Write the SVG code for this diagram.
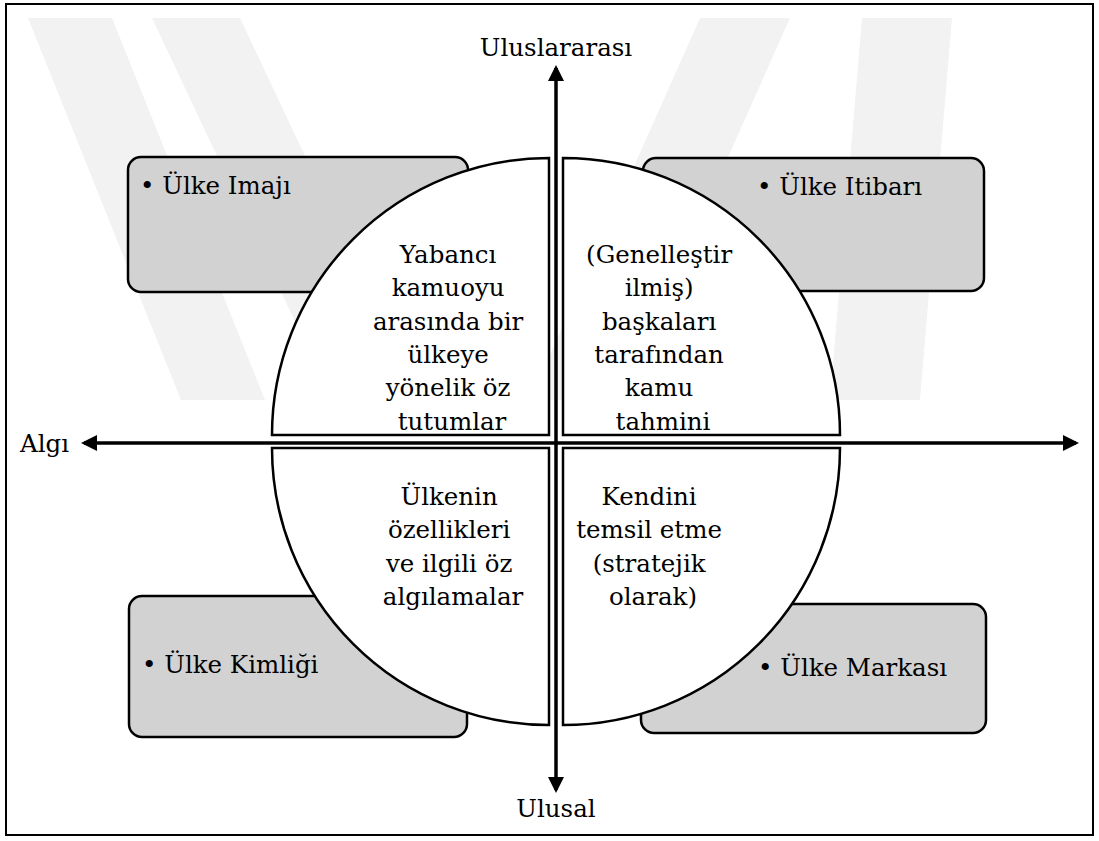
<svg xmlns="http://www.w3.org/2000/svg" width="1099" height="841" viewBox="0 0 1099 841">
  <defs>
    <style>
      .frame { fill: #ffffff; stroke: #000000; stroke-width: 2; }
      .box { fill: #d2d2d2; stroke: #000000; stroke-width: 2.5; }
      .quad { fill: #ffffff; stroke: #000000; stroke-width: 2.5; }
      .axis { fill: none; stroke: #000000; stroke-width: 3.5; }
      .mid { text-anchor: middle; }
      .mark { fill: #f2f2f2; }
    </style>
    <marker id="arrow" viewBox="0 0 16 16" markerUnits="userSpaceOnUse" markerWidth="16" markerHeight="16" refX="13" refY="8" orient="auto-start-reverse">
      <path d="M0,0 L16,8 L0,16 Z" fill="#000000"/>
    </marker>
  </defs>

  <rect class="frame" x="6" y="4" width="1087" height="831"/>

  <!-- faint background mark -->
  <g id="mark">
    <polygon class="mark" points="28,18 112,18 265,400 181,400"/>
    <polygon class="mark" points="152,18 240,18 420,400 332,400"/>
    <polygon class="mark" points="700,18 790,18 620,400 530,400"/>
    <polygon class="mark" points="862,18 952,18 920,400 830,400"/>
  </g>

  <g font-family="DejaVu Serif" font-size="24.5" fill="#000000">
  <!-- grey label boxes sit behind the quarter circles -->
  <g id="box-imaj">
    <rect class="box" x="128" y="157" width="340" height="135" rx="13"/>
    <text x="140" y="194">• Ülke Imajı</text>
  </g>
  <g id="box-itibar">
    <rect class="box" x="643" y="158" width="341" height="133" rx="13"/>
    <text x="757" y="195">• Ülke Itibarı</text>
  </g>
  <g id="box-kimlik">
    <rect class="box" x="129" y="596" width="338" height="141" rx="13"/>
    <text x="142" y="673">• Ülke Kimliği</text>
  </g>
  <g id="box-marka">
    <rect class="box" x="641" y="604" width="345" height="129" rx="13"/>
    <text x="758" y="676">• Ülke Markası</text>
  </g>

  <!-- quarter circles -->
  <g id="quad-tl">
    <path class="quad" d="M549,435 L272,435 A277,277 0 0 1 549,158 Z"/>
    <text class="mid">
      <tspan x="452" y="263">Yabancı</tspan>
      <tspan x="452" y="296.3">kamuoyu</tspan>
      <tspan x="452" y="329.6">arasında bir</tspan>
      <tspan x="452" y="362.9">ülkeye</tspan>
      <tspan x="452" y="396.2">yönelik öz</tspan>
      <tspan x="452" y="429.5">tutumlar</tspan>
    </text>
  </g>
  <g id="quad-tr">
    <path class="quad" d="M563,435 L563,158 A277,277 0 0 1 840,435 Z"/>
    <text class="mid">
      <tspan x="663" y="263">(Genelleştir</tspan>
      <tspan x="663" y="296.3">ilmiş)</tspan>
      <tspan x="663" y="329.6">başkaları</tspan>
      <tspan x="663" y="362.9">tarafından</tspan>
      <tspan x="663" y="396.2">kamu</tspan>
      <tspan x="663" y="429.5">tahmini</tspan>
    </text>
  </g>
  <g id="quad-bl">
    <path class="quad" d="M549,448 L549,725 A277,277 0 0 1 272,448 Z"/>
    <text class="mid">
      <tspan x="453" y="505">Ülkenin</tspan>
      <tspan x="453" y="538.3">özellikleri</tspan>
      <tspan x="453" y="571.6">ve ilgili öz</tspan>
      <tspan x="453" y="604.9">algılamalar</tspan>
    </text>
  </g>
  <g id="quad-br">
    <path class="quad" d="M563,448 L840,448 A277,277 0 0 1 563,725 Z"/>
    <text class="mid">
      <tspan x="653" y="505">Kendini</tspan>
      <tspan x="653" y="538.3">temsil etme</tspan>
      <tspan x="653" y="571.6">(stratejik</tspan>
      <tspan x="653" y="604.9">olarak)</tspan>
    </text>
  </g>

  <!-- axes -->
  <g id="connectors">
    <line class="axis" x1="84" y1="443" x2="1076" y2="443" marker-start="url(#arrow)" marker-end="url(#arrow)"/>
    <line class="axis" x1="556" y1="68" x2="556" y2="790" marker-start="url(#arrow)" marker-end="url(#arrow)"/>
  </g>

  <!-- axis labels -->
  <g id="axis-labels">
    <text class="mid" x="556" y="56">Uluslararası</text>
    <text class="mid" x="556" y="817">Ulusal</text>
    <text x="20" y="452">Algı</text>
  </g>
  </g>
</svg>
